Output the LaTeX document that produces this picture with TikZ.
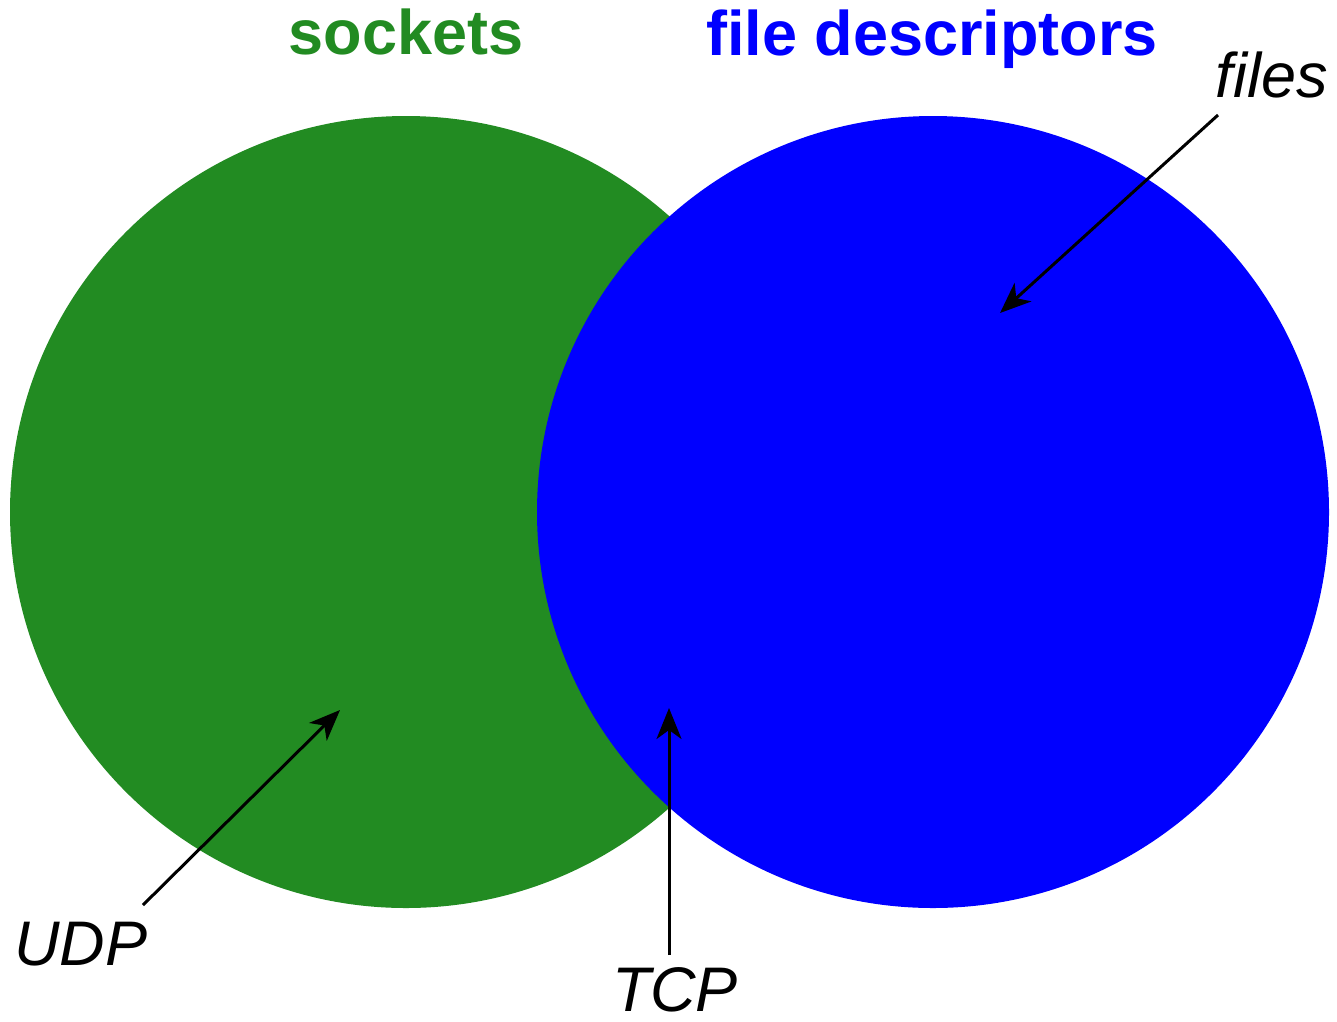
\documentclass[tikz,border=0pt]{standalone}
\usepackage{fontspec}
\setmainfont{Liberation Sans}
\usetikzlibrary{arrows.meta, positioning}
\definecolor{verdeSockets}{RGB}{34,139,34}
\definecolor{azulDescriptores}{RGB}{0,0,255}

\begin{document}
\begin{tikzpicture}[
  x=1pt, y=-1pt,
  conjunto/.style={circle, minimum size=792pt, inner sep=0pt},
  titulo/.style={font=\fontsize{63}{72}\selectfont\bfseries, anchor=base, inner sep=0pt},
  etiqueta/.style={font=\fontsize{63}{72}\selectfont\itshape, inner sep=0pt},
  flecha/.style={-{Stealth[length=31pt, width=25pt, inset=9pt]}, line width=3pt, black}
]
\useasboundingbox (0,0) rectangle (1337,1021);

\node[conjunto, fill=verdeSockets] (sockets) at (406,512) {};
\node[conjunto, fill=azulDescriptores] (descriptores) at (933,512) {};

\node[titulo, text=verdeSockets] (tsockets) at (406,54) {sockets};
\node[titulo, text=azulDescriptores] (tdescriptores) at (932,55) {file descriptors};

\node[etiqueta, anchor=base east] (files) at (1328,97) {files};
\node[etiqueta, anchor=base west] (udp) at (14,965) {UDP};
\node[etiqueta, anchor=base] (tcp) at (675,1011) {TCP};

\coordinate (ifiles) at (1218,115);
\coordinate (pfiles) at (1000,313);
\coordinate (iudp) at (143,905);
\coordinate (pudp) at (340,710);
\coordinate (itcp) at (669,955);
\coordinate (ptcp) at (669,708);

\draw[flecha] (ifiles) -- (pfiles);
\draw[flecha] (iudp) -- (pudp);
\draw[flecha] (itcp) -- (ptcp);

\end{tikzpicture}
\end{document}
